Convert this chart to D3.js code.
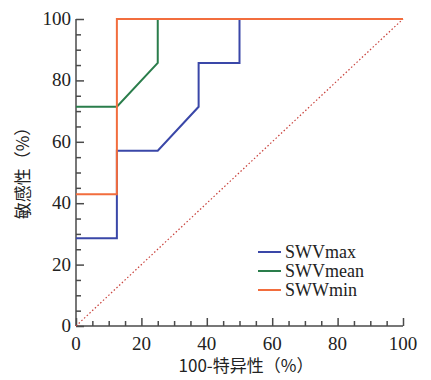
<!DOCTYPE html>
<html><head><meta charset="utf-8">
<script src="https://cdn.jsdelivr.net/npm/d3@7"></script>
<style>body{margin:0;background:#fff}</style>
</head><body><svg id="c" width="431" height="380"></svg>
<script>
const seriesNames = ["SWVmax", "SWVmean", "SWWmin"];
const seriesColors = ["#3a47a8", "#2a7d4b", "#f26d3d"];
const swvMaxX = [0, 12.5, 12.5, 25, 37.5, 37.5, 50, 50, 100];
const swvMaxY = [28.6, 28.6, 57.1, 57.1, 71.4, 85.7, 85.7, 100, 100];
const swvMeanX = [0, 12.5, 25, 25, 100];
const swvMeanY = [71.4, 71.4, 85.7, 100, 100];
const swwMinX = [0, 12.5, 12.5, 100];
const swwMinY = [42.9, 42.9, 100, 100];
const refX = [0, 100];
const refY = [0, 100];
const tickValues = [0, 20, 40, 60, 80, 100];
const minorTicks = d3.range(0, 101, 5);
const xTitle = "100-特异性（%）";
const yTitle = "敏感性（%）";

const svg = d3.select("#c");
const x = d3.scaleLinear().domain([0, 100]).range([76, 403]);
const y = d3.scaleLinear().domain([0, 100]).range([326, 19]);
const axisColor = "#4a4a4a";
const serif = "'Liberation Serif','DejaVu Serif',serif";
const cjk = "'Noto Sans CJK SC','Liberation Serif',serif";

// Axes
const xAxis = svg.append("g").attr("transform", `translate(0,${y(0)})`)
  .call(d3.axisTop(x).tickValues(minorTicks).tickSize(5).tickFormat(""));
xAxis.selectAll(".tick line").attr("y2", d => d % 20 === 0 ? -8 : -5);
xAxis.selectAll("line,path").attr("stroke", axisColor).attr("stroke-width", 1.5);
xAxis.select(".domain").attr("d", `M${x(0)},0H${x(100)}`);
const yAxis = svg.append("g").attr("transform", `translate(${x(0)},0)`)
  .call(d3.axisRight(y).tickValues(minorTicks).tickSize(5).tickFormat(""));
yAxis.selectAll(".tick line").attr("x2", d => d % 20 === 0 ? 8 : 5);
yAxis.selectAll("line,path").attr("stroke", axisColor).attr("stroke-width", 1.5);
yAxis.select(".domain").attr("d", `M0,${y(0)}V${y(100)}`);

// Tick labels
svg.append("g").selectAll("text").data(tickValues).join("text")
  .attr("x", d => x(d)).attr("y", y(0) + 24).attr("text-anchor", "middle")
  .attr("font-family", serif).attr("font-size", 19).attr("fill", "#222").text(d => d);
svg.append("g").selectAll("text").data(tickValues).join("text")
  .attr("x", x(0) - 5).attr("y", d => y(d) + 6).attr("text-anchor", "end")
  .attr("font-family", serif).attr("font-size", 19).attr("fill", "#222").text(d => d);

// Titles
svg.append("text").attr("x", 246).attr("y", 372).attr("text-anchor", "middle")
  .attr("font-family", cjk).attr("font-size", 17).attr("fill", "#222").text(xTitle);
svg.append("text").attr("transform", "translate(29,169) rotate(-90)").attr("text-anchor", "middle")
  .attr("font-family", cjk).attr("font-size", 17).attr("fill", "#222").text(yTitle);

// Reference diagonal
const line = d3.line().x(d => x(d[0])).y(d => y(d[1]));
svg.append("path").attr("d", line(d3.zip(refX, refY))).attr("fill", "none")
  .attr("stroke", "#c8403a").attr("stroke-width", 1.2).attr("stroke-dasharray", "1.5,2.2");

// Series
const series = [d3.zip(swvMaxX, swvMaxY), d3.zip(swvMeanX, swvMeanY), d3.zip(swwMinX, swwMinY)];
series.forEach((pts, i) => {
  svg.append("path").attr("d", line(pts)).attr("fill", "none")
    .attr("stroke", seriesColors[i]).attr("stroke-width", 2);
});

// Legend
const lg = svg.append("g");
seriesNames.forEach((n, i) => {
  const yy = 252 + i * 19;
  lg.append("line").attr("x1", 258).attr("x2", 281).attr("y1", yy).attr("y2", yy)
    .attr("stroke", seriesColors[i]).attr("stroke-width", 2);
  lg.append("text").attr("x", 285).attr("y", yy + 6).attr("font-family", serif)
    .attr("font-size", 18).attr("fill", "#222").text(n);
});
</script></body></html>
